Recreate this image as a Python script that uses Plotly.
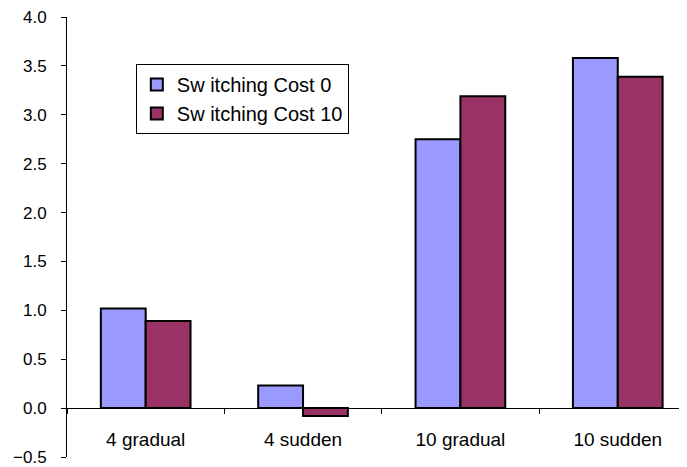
import plotly.graph_objects as go

categories = ["4 gradual", "4 sudden", "10 gradual", "10 sudden"]
switching_cost_0 = [1.02, 0.23, 2.75, 3.58]
switching_cost_10 = [0.89, -0.08, 3.19, 3.39]
series_names = ["Sw itching Cost 0", "Sw itching Cost 10"]
y_ticks = [-0.5, 0.0, 0.5, 1.0, 1.5, 2.0, 2.5, 3.0, 3.5, 4.0]

FONT = "Liberation Sans, Arial, sans-serif"

fig = go.Figure()
fig.add_trace(go.Bar(
    x=categories, y=switching_cost_0, name=series_names[0],
    marker=dict(color="#9999FF", line=dict(color="black", width=2)),
    legendgroup="a",
))
fig.add_trace(go.Bar(
    x=categories, y=switching_cost_10, name=series_names[1],
    marker=dict(color="#993366", line=dict(color="black", width=2)),
    legendgroup="b",
))

# page body has an 8px default margin, so the figure is sized/offset to compensate
fig.update_layout(
    width=679, height=459,
    margin=dict(l=59, r=0, t=9, b=10, autoexpand=False),
    paper_bgcolor="white", plot_bgcolor="white",
    font=dict(family=FONT, size=19, color="black"),
    barmode="group", bargap=0.43, bargroupgap=0,
    showlegend=True,
    legend=dict(
        x=0.111, y=0.893, xanchor="left", yanchor="top",
        bordercolor="black", borderwidth=1, bgcolor="white",
        font=dict(family=FONT, size=20, color="black"),
        tracegroupgap=8, traceorder="normal",
    ),
    xaxis=dict(
        type="category",
        range=[-0.5, 3.44],
        anchor="free", position=0.5 / 4.5,
        showline=True, linecolor="black", linewidth=1,
        ticks="outside", ticklen=5, tickcolor="black", tickwidth=1,
        tickson="boundaries",
        ticklabelstandoff=14,
        showgrid=False, zeroline=False, automargin=False,
        tickfont=dict(family=FONT, size=19, color="black"),
    ),
    yaxis=dict(
        range=[-0.5, 4.0],
        tickvals=y_ticks, tickformat=".1f",
        showline=True, linecolor="black", linewidth=1,
        ticks="outside", ticklen=5, tickcolor="black", tickwidth=1,
        showgrid=False, zeroline=False, automargin=False,
        ticklabelstandoff=11, ticklabeloverflow="allow",
        tickfont=dict(family=FONT, size=17, color="black"),
    ),
)

fig.write_html("out.html")
